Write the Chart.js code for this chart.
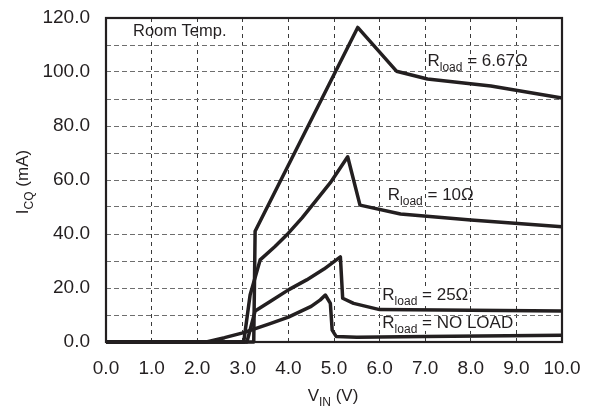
<!DOCTYPE html>
<html>
<head>
<meta charset="utf-8">
<script src="https://cdn.jsdelivr.net/npm/chart.js@4/dist/chart.umd.min.js"></script>
<style>
html,body{margin:0;padding:0;background:#fff;}
#wrap{width:597px;height:411px;}
</style>
</head>
<body>
<div id="wrap"><canvas id="c" width="597" height="411"></canvas></div>
<script>
// ---- data ----
const vin667 = [0, 3.24, 3.27, 5.52, 6.37, 7.05, 8.44, 10];
const icq667 = [0, 0, 41, 116.5, 100.3, 97.4, 94.8, 90.4];

const vin10 = [0, 3.02, 3.16, 3.38, 3.7, 4.0, 4.3, 4.6, 4.92, 5.3, 5.57, 6.46, 8.0, 10];
const icq10 = [0, 0, 17.4, 30.4, 35.3, 40.3, 46, 52.3, 59, 68.6, 50.7, 47.4, 45.2, 42.7];

const vin25 = [0, 3.09, 3.27, 3.6, 4.0, 4.4, 4.78, 5.14, 5.19, 5.43, 6.0, 10];
const icq25 = [0, 0, 11.5, 15, 19.3, 23, 27, 31.5, 16.2, 14.3, 12.0, 11.5];

const vinNL = [0, 2.2, 2.6, 3.0, 3.6, 4.0, 4.5, 4.7, 4.81, 4.92, 4.96, 5.05, 5.5, 7.0, 10];
const icqNL = [0, 0, 1.6, 3.4, 6.8, 9.2, 13.2, 15.6, 17.4, 14.3, 4.4, 2.0, 1.8, 2.0, 2.5];

const seriesNames = ['6.67Ω', '10Ω', '25Ω', 'NO LOAD'];
const xTicks = [0,1,2,3,4,5,6,7,8,9,10];
const yTicks = [0,20,40,60,80,100,120];

// label annotations: [main, sub, rest, x value, y value of baseline]
const notes = [
  ['R', 'load', ' = 6.67Ω', 7.05, 102.2],
  ['R', 'load', ' = 10Ω', 6.18, 52.6],
  ['R', 'load', ' = 25Ω', 6.06, 15.6],
  ['R', 'load', ' = NO LOAD', 6.06, 5.2]
];

const pts = (xs, ys) => xs.map((x, i) => ({x: x, y: ys[i]}));
const FONT = '"Liberation Sans", Arial, sans-serif';
const INK = '#231f20';

function drawSubText(ctx, x, y, main, sub, rest, size) {
  ctx.font = size + 'px ' + FONT;
  ctx.fillText(main, x, y);
  let w = ctx.measureText(main).width;
  ctx.font = Math.round(size * 0.72) + 'px ' + FONT;
  ctx.fillText(sub, x + w, y + size * 0.28);
  w += ctx.measureText(sub).width;
  ctx.font = size + 'px ' + FONT;
  ctx.fillText(rest, x + w, y);
  w += ctx.measureText(rest).width;
  return w;
}
function measureSubText(ctx, main, sub, rest, size) {
  ctx.font = size + 'px ' + FONT;
  let w = ctx.measureText(main).width + ctx.measureText(rest).width;
  ctx.font = Math.round(size * 0.72) + 'px ' + FONT;
  w += ctx.measureText(sub).width;
  return w;
}

const decor = {
  id: 'decor',
  afterDraw(chart) {
    const ctx = chart.ctx;
    const a = chart.chartArea;
    const xs = chart.scales.x, ys = chart.scales.y;
    ctx.save();
    // frame
    ctx.strokeStyle = INK;
    ctx.lineWidth = 2.2;
    ctx.strokeRect(a.left, a.top, a.right - a.left, a.bottom - a.top);
    ctx.fillStyle = INK;
    ctx.textBaseline = 'alphabetic';
    ctx.textAlign = 'left';
    // Room Temp.
    ctx.font = '16.5px ' + FONT;
    ctx.fillText('Room Temp.', a.left + 27, a.top + 18);
    // series labels
    notes.forEach((n, i) => {
      const px = xs.getPixelForValue(n[3]);
      const py = ys.getPixelForValue(n[4]);
      const w = measureSubText(ctx, n[0], n[1], n[2], 17);
      if (i >= 2) {
        ctx.fillStyle = '#fff';
        ctx.fillRect(px - 1, py - 12, w + 2, 15);
      }
      ctx.fillStyle = INK;
      drawSubText(ctx, px, py, n[0], n[1], n[2], 17);
    });
    // x title
    const xw = measureSubText(ctx, 'V', 'IN', ' (V)', 17);
    drawSubText(ctx, (a.left + a.right) / 2 - xw / 2 - 1, 401, 'V', 'IN', ' (V)', 17);
    // y title
    ctx.save();
    ctx.translate(28, (a.top + a.bottom) / 2 + 2);
    ctx.rotate(-Math.PI / 2);
    const yw = measureSubText(ctx, 'I', 'CQ', ' (mA)', 17);
    drawSubText(ctx, -yw / 2, 0, 'I', 'CQ', ' (mA)', 17);
    ctx.restore();
    ctx.restore();
  }
};

const lineStyle = {
  borderColor: INK,
  borderWidth: 3.5,
  pointRadius: 0,
  tension: 0,
  fill: false,
  clip: 6,
  borderJoinStyle: 'round',
  borderCapStyle: 'butt'
};

new Chart(document.getElementById('c'), {
  type: 'line',
  data: {
    datasets: [
      Object.assign({label: seriesNames[0], data: pts(vin667, icq667)}, lineStyle),
      Object.assign({label: seriesNames[1], data: pts(vin10, icq10)}, lineStyle),
      Object.assign({label: seriesNames[2], data: pts(vin25, icq25)}, lineStyle),
      Object.assign({label: seriesNames[3], data: pts(vinNL, icqNL)}, lineStyle)
    ]
  },
  options: {
    responsive: false,
    animation: false,
    devicePixelRatio: 1,
    layout: {padding: {top: 18, right: 35, bottom: 0, left: 0}},
    plugins: {legend: {display: false}, tooltip: {enabled: false}},
    scales: {
      x: {
        type: 'linear',
        min: 0, max: 10,
        afterBuildTicks: s => { s.ticks = xTicks.map(v => ({value: v})); },
        afterFit: s => { s.height = 69; s.paddingLeft = 0; s.paddingRight = 0; },
        ticks: {
          autoSkip: false, maxRotation: 0, padding: 15,
          color: INK, font: {family: FONT, size: 19},
          callback: v => v.toFixed(1)
        },
        grid: {
          drawTicks: false, color: '#3a3a3a', lineWidth: 1
        },
        border: {display: false, dash: [4, 4]}
      },
      y: {
        min: 0, max: 120,
        afterBuildTicks: s => {
          const t = [];
          for (let v = 0; v <= 120; v += 10) t.push({value: v});
          s.ticks = t;
        },
        afterFit: s => { s.width = 106; s.paddingTop = 0; s.paddingBottom = 0; },
        ticks: {
          autoSkip: false, padding: 16,
          color: INK, font: {family: FONT, size: 19},
          callback: v => yTicks.includes(v) ? v.toFixed(1) : ''
        },
        grid: {
          drawTicks: false, color: '#6e6e6e', lineWidth: 1
        },
        border: {display: false, dash: [5, 3]}
      }
    }
  },
  plugins: [decor]
});
</script>
</body>
</html>
